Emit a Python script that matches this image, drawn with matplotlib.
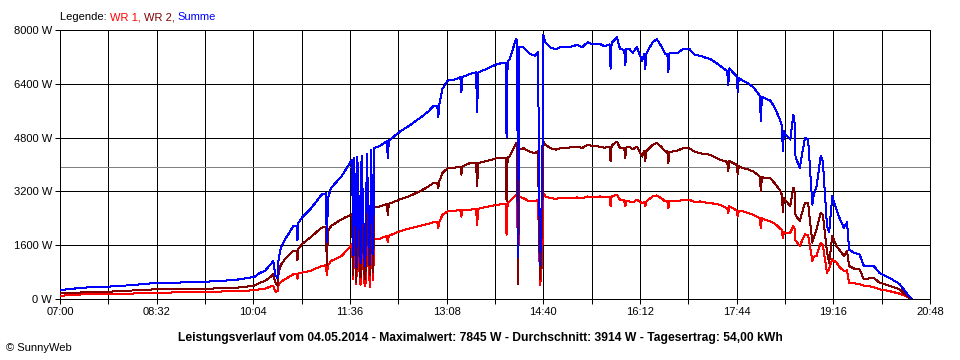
import matplotlib
matplotlib.use("Agg")
import matplotlib.pyplot as plt
import numpy as np

plt.rcParams['font.family'] = ['Liberation Sans', 'DejaVu Sans']

# Messwerte: Uhrzeit, WR 1 und WR 2 in W (Summe = WR 1 + WR 2)
zeit = ["07:00", "07:10", "07:24", "07:46", "08:07", "08:32", "08:54", "09:18", "09:37", "09:49",
        "10:05", "10:10", "10:15", "10:20", "10:23", "10:25", "10:27", "10:28", "10:30", "10:34",
        "10:42", "10:45", "10:46", "10:47", "10:50", "10:58", "11:09", "11:13", "11:14", "11:15",
        "11:18", "11:28", "11:33", "11:38", "11:39", "11:40", "11:42", "11:43", "11:46", "11:47",
        "11:50", "11:51", "11:52", "11:55", "11:56", "11:58", "11:59", "12:05", "12:11", "12:12",
        "12:13", "12:24", "12:33", "12:43", "12:50", "12:55", "12:59", "13:00", "13:01", "13:04",
        "13:09", "13:15", "13:21", "13:22", "13:23", "13:30", "13:36", "13:37", "13:38", "13:40",
        "13:48", "13:56", "14:04", "14:05", "14:06", "14:08", "14:14", "14:15", "14:16", "14:17",
        "14:21", "14:27", "14:32", "14:35", "14:36", "14:37", "14:39", "14:40", "14:42", "14:47",
        "14:52", "14:56", "15:04", "15:12", "15:17", "15:22", "15:28", "15:34", "15:38", "15:43",
        "15:44", "15:45", "15:50", "15:53", "15:57", "15:58", "15:59", "16:02", "16:05", "16:09",
        "16:14", "16:16", "16:17", "16:18", "16:24", "16:28", "16:33", "16:36", "16:38", "16:39",
        "16:40", "16:43", "16:48", "16:53", "16:59", "17:04", "17:09", "17:14", "17:19", "17:24",
        "17:28", "17:35", "17:36", "17:37", "17:44", "17:45", "17:46", "17:50", "17:55", "18:00",
        "18:06", "18:07", "18:08", "18:12", "18:16", "18:20", "18:25", "18:27", "18:28", "18:29",
        "18:30", "18:35", "18:38", "18:39", "18:40", "18:41", "18:44", "18:49", "18:52", "18:56",
        "18:57", "19:00", "19:04", "19:06", "19:08", "19:10", "19:12", "19:15", "19:19", "19:22",
        "19:26", "19:29", "19:31", "19:36", "19:41", "19:45", "19:54", "20:00", "20:10", "20:19",
        "20:27", "20:31"]
wr1 = [90, 120, 140, 150, 160, 190, 195, 208, 225, 238,
       259, 288, 300, 370, 387, 217, 230, 420, 500, 585,
       734, 740, 600, 770, 784, 833, 982, 1000, 700, 1000,
       1131, 1280, 1450, 1627, 600, 1650, 450, 1660, 420, 1680,
       380, 500, 1700, 350, 1740, 550, 1776, 1800, 1875, 1700,
       1880, 2024, 2100, 2180, 2230, 2280, 2290, 2100, 2300, 2500,
       2604, 2620, 2650, 2450, 2650, 2653, 2690, 2200, 2680, 2703,
       2750, 2802, 2830, 1911, 2850, 2900, 3099, 3080, 800, 3050,
       3000, 2901, 2901, 2950, 1500, 400, 1200, 3150, 3049, 3000,
       2980, 3000, 2990, 3020, 3000, 3049, 3030, 3049, 3020, 3040,
       2750, 3060, 3099, 2950, 2930, 2750, 2930, 2901, 2870, 2950,
       2851, 2880, 2750, 2900, 3049, 3080, 2980, 2901, 2910, 2700,
       2920, 2920, 2900, 2950, 2950, 2880, 2901, 2870, 2850, 2830,
       2802, 2700, 2550, 2760, 2630, 2450, 2620, 2604, 2560, 2505,
       2406, 2100, 2400, 2350, 2307, 2250, 2109, 2050, 1800, 2000,
       1960, 1974, 2172, 2100, 1750, 1700, 1577, 1925, 1900, 1131,
       1250, 1280, 1677, 1600, 1181, 784, 900, 1181, 1081, 950,
       833, 850, 486, 470, 436, 400, 360, 290, 230, 160,
       60, 0]
wr2 = [170, 180, 200, 217, 250, 290, 295, 306, 320, 340,
       396, 486, 530, 650, 734, 485, 400, 760, 1000, 1180,
       1428, 1440, 1150, 1500, 1627, 1825, 2123, 2140, 1000, 2000,
       2172, 2371, 2450, 2520, 700, 2550, 500, 2560, 650, 2580,
       600, 900, 2620, 700, 2680, 800, 2718, 2760, 2817, 2500,
       2830, 2966, 3065, 3214, 3330, 3445, 3460, 3300, 3500, 3750,
       3891, 3900, 3940, 3700, 3950, 4039, 4050, 3346, 4050, 4060,
       4120, 4188, 4200, 2900, 4200, 4237, 4633, 4600, 450, 4450,
       4485, 4386, 4336, 4400, 1800, 600, 2500, 4695, 4584, 4480,
       4440, 4485, 4500, 4534, 4490, 4584, 4540, 4534, 4500, 4530,
       4100, 4560, 4683, 4485, 4480, 4200, 4500, 4534, 4450, 4534,
       4237, 4400, 4100, 4400, 4584, 4650, 4500, 4386, 4390, 4050,
       4380, 4386, 4420, 4485, 4485, 4380, 4336, 4310, 4287, 4200,
       4138, 4080, 3800, 4100, 3990, 3700, 3950, 3891, 3850, 3792,
       3643, 3200, 3620, 3600, 3594, 3450, 3247, 3100, 2600, 3000,
       2950, 2768, 3313, 3200, 2500, 2450, 2321, 2867, 2850, 1677,
       1800, 2073, 2569, 2500, 1974, 1379, 1081, 1875, 1577, 1450,
       1280, 1428, 982, 900, 883, 585, 635, 486, 387, 288,
       60, 0]
durchschnitt = 3914
y_ticks = [0, 1600, 3200, 4800, 6400, 8000]
x_labels = ["07:00", "08:32", "10:04", "11:36", "13:08", "14:40", "16:12", "17:44", "19:16", "20:48"]


def minuten(s):
    h, m = s.split(":")
    return int(h) * 60 + int(m)


t = np.array([minuten(s) for s in zeit])
w1 = np.array(wr1)
w2 = np.array(wr2)
summe = w1 + w2

px = 0.72  # 1 Pixel bei 100 dpi
fig = plt.figure(figsize=(9.6, 3.6), dpi=100)
ax = fig.add_axes([60 / 960, 61 / 360, 870 / 960, 269 / 360])

x_major = [minuten(s) for s in x_labels]
x_minor = np.arange(x_major[0], x_major[-1] + 1, 46)
for xv in x_minor:
    ax.axvline(xv, color="black", lw=px, zorder=1)
for yv in y_ticks:
    ax.axhline(yv, color="black", lw=px, zorder=1)
ax.axhline(durchschnitt, color="#808080", lw=px, zorder=1)

ax.plot(t, w1, color="#ff0000", lw=px, antialiased=False, zorder=3)
ax.plot(t, w2, color="#800000", lw=px, antialiased=False, zorder=3)
ax.plot(t, summe, color="#0000ff", lw=px, antialiased=False, zorder=4)

ax.set_xlim(x_major[0], x_major[-1])
ax.set_ylim(0, 8000)
ax.set_xticks(x_major)
ax.set_xticklabels(x_labels)
ax.set_xticks(x_minor, minor=True)
ax.set_yticks(y_ticks)
ax.set_yticklabels([f"{v} W" for v in y_ticks])
ax.tick_params(axis="both", which="both", direction="out", length=3.6, width=px,
               labelsize=8, pad=2, colors="black")
for sp in ax.spines.values():
    sp.set_linewidth(px)

fig.text(480 / 960, 1 - 338 / 360,
         "Leistungsverlauf vom 04.05.2014 - Maximalwert: 7845 W - Durchschnitt: 3914 W - Tagesertrag: 54,00 kWh",
         ha="center", va="center", fontsize=8.7, fontweight="bold")
fig.text(6 / 960, 1 - 348 / 360, "© SunnyWeb", ha="left", va="center", fontsize=8)

# Legende oben links, Stück für Stück nebeneinander
teile = [("Legende: ", "black"), ("WR 1, ", "#ff0000"), ("WR 2, ", "#800000"), ("Summe", "#0000ff")]
fig.canvas.draw()
renderer = fig.canvas.get_renderer()
xpos = 60
for txt, col in teile:
    tt = fig.text(xpos / 960, 1 - 17 / 360, txt, ha="left", va="center", fontsize=8, color=col)
    bb = tt.get_window_extent(renderer)
    xpos += bb.width

fig.savefig("out.png", dpi=100, facecolor="white")
